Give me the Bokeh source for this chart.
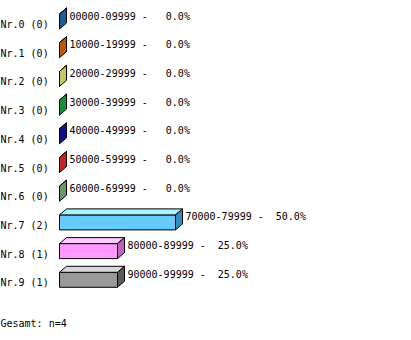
from bokeh.plotting import figure
from bokeh.models import Range1d, ColumnDataSource, Label
from bokeh.embed import file_html
from bokeh.resources import INLINE
from bokeh.core.properties import value

# ---- data ----
names = ["Nr.0", "Nr.1", "Nr.2", "Nr.3", "Nr.4", "Nr.5", "Nr.6", "Nr.7", "Nr.8", "Nr.9"]
counts = [0, 0, 0, 0, 0, 0, 0, 2, 1, 1]
ranges = ["00000-09999", "10000-19999", "20000-29999", "30000-39999", "40000-49999",
          "50000-59999", "60000-69999", "70000-79999", "80000-89999", "90000-99999"]
total_label = "Gesamt: n=4"

# ---- styles ----
front_colors = ["#2a7ac0", "#e07010", "#e0e080", "#20b048", "#1818a8", "#e03030", "#80b080",
                "#66ccff", "#ff99ff", "#999999"]
top_colors = ["#5aa0e0", "#ff9a40", "#f0f0a8", "#50d070", "#4040d0", "#ff6060", "#a8d0a8",
              "#a8f4ff", "#ffccff", "#d8d8d8"]
side_colors = ["#1a5e96", "#c05800", "#c8c860", "#149038", "#101088", "#c02828", "#68986a",
               "#2f8fbf", "#c060c0", "#5a5a5a"]

W, H = 411, 340
PXC = 58.0      # pixels per count
ROWPX = 28.7    # pixels per row
X0 = 59.0       # pixel x of zero
ROW0 = 21.0     # pixel y of first bar centre
DX = 7.0 / PXC
DY = 6.0 / ROWPX
HH = 7.5 / ROWPX

total = sum(counts)
n = len(counts)

fxs, fys, txs, tys, sxs, sys_ = [], [], [], [], [], []
for i, c in enumerate(counts):
    yt, yb = i - HH, i + HH
    fxs.append([0, c, c, 0]); fys.append([yt, yt, yb, yb])
    txs.append([0, c, c + DX, DX]); tys.append([yt, yt, yt - DY, yt - DY])
    sxs.append([c, c + DX, c + DX, c]); sys_.append([yt, yt - DY, yb - DY, yb])

p = figure(width=W, height=H, output_backend="svg", toolbar_location=None,
           x_range=Range1d(-X0 / PXC, (W - X0) / PXC),
           y_range=Range1d((H - ROW0) / ROWPX, -ROW0 / ROWPX),
           x_axis_location=None, y_axis_location=None, min_border=0)
p.grid.visible = False
p.outline_line_color = None
p.background_fill_color = "white"
p.border_fill_color = "white"

p.patches(fxs, fys, fill_color=front_colors, line_color="black", line_width=1)
p.patches(txs, tys, fill_color=top_colors, line_color="black", line_width=1)
p.patches(sxs, sys_, fill_color=side_colors, line_color="black", line_width=1)

NB = "\u00a0"
left_src = ColumnDataSource(dict(
    x=[-X0 / PXC] * n,
    y=[i + 3.0 / ROWPX for i in range(n)],
    t=[f"{names[i]} ({counts[i]})".replace(" ", NB) for i in range(n)]))
right_src = ColumnDataSource(dict(
    x=[c + DX + 3.0 / PXC for c in counts],
    y=[i - 5.5 / ROWPX for i in range(n)],
    t=[f"{ranges[i]} - {100.0 * counts[i] / total:5.1f}%".replace(" ", NB) for i in range(n)]))

font = value("DejaVu Sans Mono")
p.text("x", "y", "t", source=left_src, text_font=font, text_font_size="10px",
       text_align="left", text_baseline="middle", text_color="black")
p.text("x", "y", "t", source=right_src, text_font=font, text_font_size="10px",
       text_align="left", text_baseline="middle", text_color="black")

p.add_layout(Label(x=0, y=H - 323, x_units="screen", y_units="screen", text=total_label,
                   text_font="DejaVu Sans Mono", text_font_size="10px",
                   text_baseline="middle", text_align="left", text_color="black"))

open("out.html", "w").write(file_html(p, INLINE))
